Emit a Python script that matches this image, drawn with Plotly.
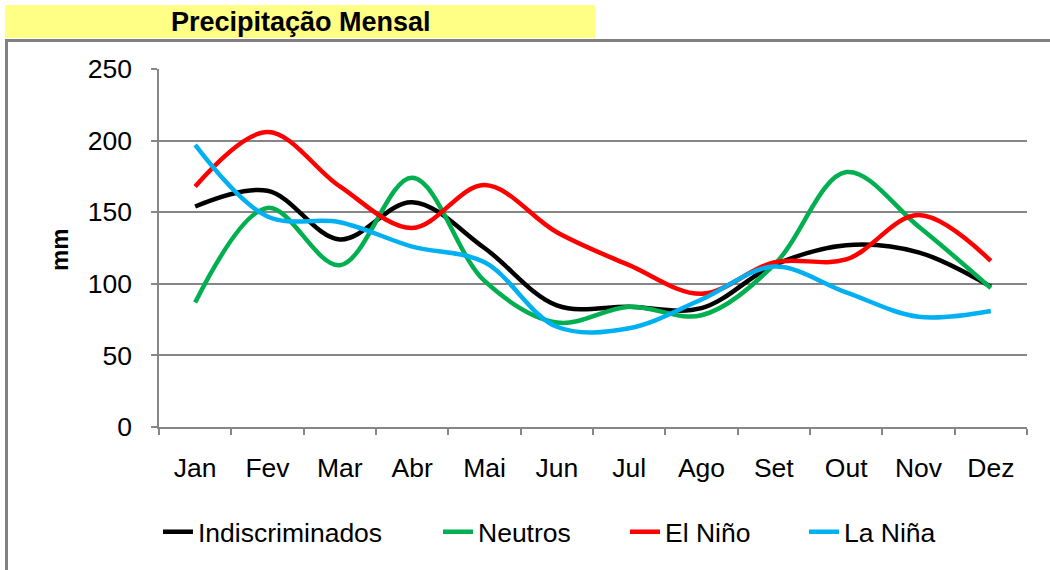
import plotly.graph_objects as go

months = ["Jan", "Fev", "Mar", "Abr", "Mai", "Jun", "Jul", "Ago", "Set", "Out", "Nov", "Dez"]
indiscriminados = [154, 165, 131, 157, 125, 85, 84, 83, 113, 127, 122, 98]
neutros = [87, 153, 113, 174, 102, 73, 84, 78, 113, 178, 140, 97]
el_nino = [168, 206, 168, 139, 169, 136, 113, 93, 115, 117, 148, 116]
la_nina = [197, 147, 143, 126, 115, 70, 69, 89, 112, 94, 77, 81]

series = [
    ("Indiscriminados", indiscriminados, "#000000"),
    ("Neutros", neutros, "#00B050"),
    ("El Niño", el_nino, "#FF0000"),
    ("La Niña", la_nina, "#00B0F0"),
]

W, H = 1050, 570
L, R, T, B = 159, 1027, 69, 427
FONT = "Liberation Sans, Arial, sans-serif"
GRAY = "#868686"


def px(x):
    return (x - L) / (R - L)


def py(y):
    return (B - y) / (B - T)


fig = go.Figure()
legend_names = ["legend", "legend2", "legend3", "legend4"]
text_starts = [198, 478, 665, 844]
for (name, vals, color), lg in zip(series, legend_names):
    fig.add_trace(go.Scatter(
        x=months, y=vals, name=name, mode="lines",
        line=dict(color=color, width=4.5, shape="spline", smoothing=1.0),
        legend=lg,
    ))

legend_layout = {}
for lg, ts in zip(legend_names, text_starts):
    legend_layout[lg] = dict(
        x=px(ts - 40), xanchor="left", y=py(532), yanchor="middle",
        orientation="h", bgcolor="rgba(0,0,0,0)", borderwidth=0,
        font=dict(family=FONT, size=26.5, color="#000000"),
    )

fig.update_layout(
    width=W, height=H, autosize=False,
    margin=dict(l=L, r=W - R, t=T, b=H - B, pad=0),
    paper_bgcolor="white", plot_bgcolor="white",
    font=dict(family=FONT, size=26, color="#000000"),
    showlegend=True,
    **legend_layout,
    xaxis=dict(
        type="category", range=[-0.5, 11.5], showgrid=False,
        showline=True, linecolor=GRAY, linewidth=1.5,
        ticks="outside", tickson="boundaries", ticklen=6, tickcolor=GRAY, tickwidth=1.5,
        tickfont=dict(family=FONT, size=26.5, color="#000000"),
        ticklabelstandoff=16,
    ),
    yaxis=dict(
        range=[0, 250], dtick=50, showgrid=True, gridcolor=GRAY, gridwidth=1.5,
        zeroline=False, showline=True, linecolor=GRAY, linewidth=1.5,
        ticks="outside", ticklen=6, tickcolor=GRAY, tickwidth=1.5,
        tickfont=dict(family=FONT, size=26.5, color="#000000"),
        ticklabelstandoff=14,
    ),
    shapes=[
        dict(type="rect", xref="paper", yref="paper",
             x0=px(6.5), x1=px(1070), y0=py(40.5), y1=py(600),
             line=dict(color="#808080", width=3), fillcolor="rgba(0,0,0,0)", layer="below"),
        dict(type="rect", xref="paper", yref="paper",
             x0=px(5), x1=px(595), y0=py(5), y1=py(38),
             line=dict(width=0), fillcolor="#FFFF85", layer="below"),
    ],
    annotations=[
        dict(text="<b>Precipitação Mensal</b>", xref="paper", yref="paper",
             x=px(301), y=py(22), xanchor="center", yanchor="middle", showarrow=False,
             font=dict(family=FONT, size=27, color="#000000")),
        dict(text="<b>mm</b>", xref="paper", yref="paper",
             x=px(59), y=py(250), xanchor="center", yanchor="middle", showarrow=False,
             textangle=-90, font=dict(family=FONT, size=24, color="#000000")),
    ],
)

fig.write_html(
    "out.html",
    config={"displayModeBar": False},
    post_script="document.body.style.margin='0';document.body.style.padding='0';",
)
